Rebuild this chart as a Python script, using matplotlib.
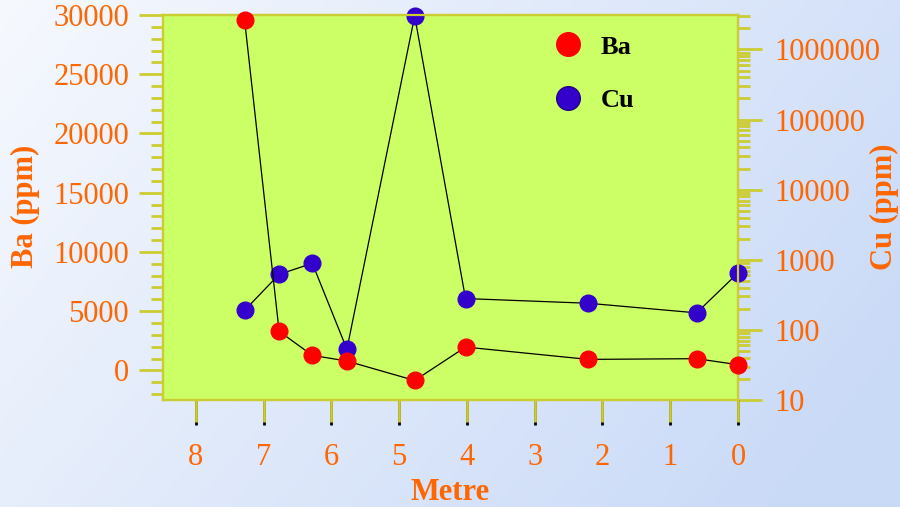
import numpy as np
import matplotlib
matplotlib.use('Agg')
import matplotlib.pyplot as plt
from matplotlib.ticker import MultipleLocator, FixedLocator, LogLocator, NullFormatter, FuncFormatter
from matplotlib.lines import Line2D

plt.rcParams['font.family'] = ['Liberation Serif', 'DejaVu Serif']

# data
metre = [7.28, 6.77, 6.28, 5.77, 4.77, 4.02, 2.21, 0.61, 0.0]
ba_ppm = [29600, 3300, 1270, 790, -850, 1970, 930, 990, 480]
cu_ppm = [190, 620, 890, 53, 3000000, 280, 240, 175, 650]

x_ticks = [8, 7, 6, 5, 4, 3, 2, 1, 0]
ba_ticks = [0, 5000, 10000, 15000, 20000, 25000, 30000]
cu_ticks = [10, 100, 1000, 10000, 100000, 1000000]

ORANGE = '#FF6600'
OLIVE = '#CCCC33'
GREEN = '#CCFF66'
RED = '#FF0000'
BLUE = '#3300CC'

fig = plt.figure(figsize=(9, 5.07), dpi=100)

# soft blue backdrop
bg = fig.add_axes([0, 0, 1, 1], zorder=-1)
gx, gy = np.meshgrid(np.linspace(0, 1, 300), np.linspace(0, 1, 170))
t = np.clip(0.75 * gx + 0.35 * gy, 0, 1)
c1 = np.array([0.965, 0.975, 0.995])
c2 = np.array([0.79, 0.855, 0.97])
img = c1[None, None, :] * (1 - t[..., None]) + c2[None, None, :] * t[..., None]
bg.imshow(img, aspect='auto', extent=[0, 1, 0, 1], origin='upper')
bg.axis('off')

pos = [0.1806, 0.211, 0.6394, 0.7594]
ax = fig.add_axes(pos)
ax2 = ax.twinx()
ax.set_zorder(ax2.get_zorder() + 1)
ax.patch.set_visible(False)
ax2.patch.set_visible(True)
ax2.set_facecolor(GREEN)

# Cu on log axis (right)
ax2.plot(metre, cu_ppm, color='black', lw=0.9, marker='o', ms=12,
         mfc=BLUE, mec=BLUE, zorder=3, clip_on=False)
ax2.set_yscale('log')
ax2.set_ylim(10, 3.1e6)
ax2.yaxis.set_major_locator(FixedLocator(cu_ticks))
ax2.yaxis.set_major_formatter(FuncFormatter(lambda v, p: f'{int(round(v))}'))
ax2.yaxis.set_minor_locator(LogLocator(base=10, subs=np.arange(2, 10)))
ax2.yaxis.set_minor_formatter(NullFormatter())

# Ba on linear axis (left)
ax.plot(metre, ba_ppm, color='black', lw=0.9, marker='o', ms=12,
        mfc=RED, mec=RED, zorder=3, clip_on=False)
ax.set_ylim(-2500, 30000)
ax.set_xlim(8.49, 0)
ax.set_yticks(ba_ticks)
ax.yaxis.set_minor_locator(MultipleLocator(1000))
ax.set_xticks(x_ticks)

for a in (ax, ax2):
    for s in a.spines.values():
        s.set_color(OLIVE)
        s.set_linewidth(1.6)

ax.tick_params(axis='y', which='major', direction='out', length=17, width=2,
               color=OLIVE, labelcolor=ORANGE, labelsize=22, pad=7)
ax.tick_params(axis='y', which='minor', direction='out', length=8.5, width=2,
               color=OLIVE)
ax2.tick_params(axis='y', which='major', direction='out', length=17, width=2,
                color=OLIVE, labelcolor=ORANGE, labelsize=22, pad=9)
ax2.tick_params(axis='y', which='minor', direction='out', length=8.5, width=2,
                color=OLIVE)
# black tick tips, covered by olive ticks from an overlay axes
ax.tick_params(axis='x', which='major', direction='out', length=18, width=2,
               color='black', labelcolor=ORANGE, labelsize=22, pad=13)
ov = fig.add_axes(pos, zorder=ax.get_zorder() + 1)
ov.patch.set_visible(False)
for s in ov.spines.values():
    s.set_visible(False)
ov.set_xlim(ax.get_xlim())
ov.set_xticks(x_ticks)
ov.set_yticks([])
ov.tick_params(axis='x', direction='out', length=16, width=2, color=OLIVE,
               labelbottom=False)

fig.text(0.028, 0.592, 'Ba (ppm)', rotation=90, ha='center', va='center',
         color=ORANGE, fontsize=22, fontweight='bold')
fig.text(0.983, 0.592, 'Cu (ppm)', rotation=90, ha='center', va='center',
         color=ORANGE, fontsize=22, fontweight='bold')
fig.text(0.5, 0.028, 'Metre', ha='center', va='center',
         color=ORANGE, fontsize=22, fontweight='bold')

handles = [Line2D([], [], ls='none', marker='o', ms=17, mfc=RED, mec=RED),
           Line2D([], [], ls='none', marker='o', ms=17, mfc=BLUE, mec='#220088')]
leg = ov.legend(handles, ['Ba', 'Cu'], loc='upper left',
                bbox_to_anchor=(0.681, 0.948), frameon=False, borderpad=0,
                borderaxespad=0, handlelength=1.0, handletextpad=0.75,
                labelspacing=1.15, prop={'size': 19, 'weight': 'bold'})

fig.savefig('out.png', dpi=100)
